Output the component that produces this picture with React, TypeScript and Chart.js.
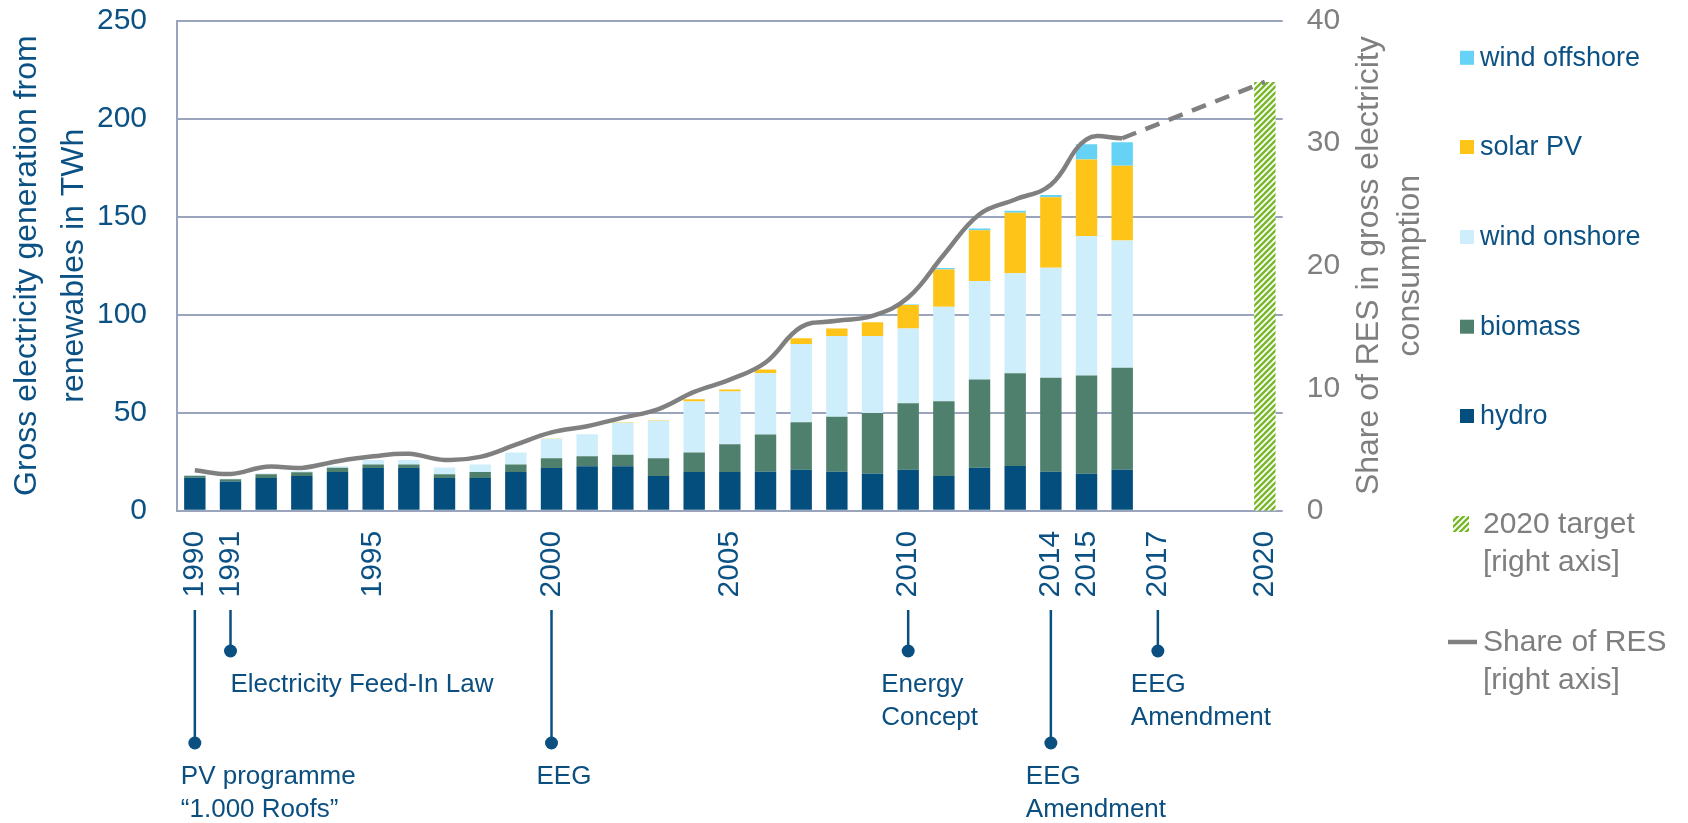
import React, { useEffect, useRef } from 'react';
import { Chart, registerables } from 'chart.js';

Chart.register(...registerables);

// ---------------- data ----------------
const years = [
  '1990', '1991', '1992', '1993', '1994', '1995', '1996', '1997', '1998', '1999',
  '2000', '2001', '2002', '2003', '2004', '2005', '2006', '2007', '2008', '2009',
  '2010', '2011', '2012', '2013', '2014', '2015', '2016', '2017', '2018', '2019', '2020',
];

// TWh, 1990 … 2016
const hydro = [16.8, 15.0, 16.7, 17.7, 19.8, 21.8, 21.8, 16.7, 16.7, 19.8, 21.8, 22.7, 22.7, 17.7, 19.8, 19.8, 19.9, 20.9, 19.9, 18.9, 20.9, 17.8, 22.0, 22.8, 19.9, 18.9, 20.9];
const biomass = [1.1, 1.1, 2.0, 2.0, 2.1, 1.8, 1.8, 2.0, 3.1, 3.8, 5.0, 5.1, 5.9, 9.1, 9.9, 14.1, 19.0, 24.2, 28.1, 31.0, 34.0, 38.1, 44.9, 47.4, 48.0, 50.1, 52.0];
const windOnshore = [0.1, 0.2, 0.3, 0.5, 0.8, 2.3, 2.3, 3.4, 3.8, 6.1, 10.0, 11.2, 16.3, 19.1, 26.0, 26.9, 31.3, 40.0, 41.2, 39.3, 38.1, 48.2, 50.3, 50.9, 56.1, 71.1, 65.0];
const solarPV = [0, 0, 0, 0, 0, 0, 0, 0, 0, 0, 0.1, 0.1, 0.2, 0.3, 1.2, 1.1, 1.8, 2.9, 3.8, 6.9, 12.0, 18.9, 25.9, 30.9, 35.9, 39.0, 38.1];
const windOffshore = [0, 0, 0, 0, 0, 0, 0, 0, 0, 0, 0, 0, 0, 0, 0, 0, 0, 0, 0, 0, 0.2, 0.8, 0.9, 1.0, 1.2, 7.8, 11.9];

// share of RES in gross electricity consumption, %, 1990 … 2016
const shareOfRES = [3.3, 3.0, 3.6, 3.5, 4.05, 4.45, 4.65, 4.15, 4.4, 5.4, 6.4, 6.9, 7.6, 8.3, 9.7, 10.7, 12.1, 15.0, 15.5, 15.9, 17.4, 20.9, 24.2, 25.4, 26.6, 30.3, 30.4];
const targetYear = '2020';
const targetShare = 35;

const leftTicks = [0, 50, 100, 150, 200, 250];
const rightTicks = [0, 10, 20, 30, 40];
const shownYearLabels = ['1990', '1991', '1995', '2000', '2005', '2010', '2014', '2015', '2017', '2020'];

const leftTitle = ['Gross electricity generation from', 'renewables in TWh'];
const rightTitle = ['Share of RES in gross electricity', 'consumption'];

const milestoneYears = ['1990', '1991', '2000', '2010', '2014', '2017'];
const milestoneTexts = [
  ['PV programme', '\u201C1.000 Roofs\u201D'],
  ['Electricity Feed-In Law'],
  ['EEG'],
  ['Energy', 'Concept'],
  ['EEG', 'Amendment'],
  ['EEG', 'Amendment'],
];
const milestoneRow = [2, 1, 2, 1, 2, 1];

// ---------------- styles / layout ----------------
const FONT = "'Liberation Sans', Arial, Helvetica, sans-serif";
const BLUE_TEXT = '#0B5184';
const GREY = '#7F7F7F';
const GRID = '#9AA5BD';
const TIMELINE = '#0B4F80';
const COLORS = {
  hydro: '#034E7D',
  biomass: '#4F806D',
  windOnshore: '#CDEEFA',
  solarPV: '#FEC518',
  windOffshore: '#66D3F6',
  hatch: '#78B829',
};
const W = 1688;
const H = 823;
const AREA = { left: 177, right: 1282.7, top: 20.6, bottom: 510.8 };
const LAYOUT = {
  leftTitleX: 27.5,
  leftTitleGap: 47,
  rightTitleX: 1369,
  rightTitleGap: 41,
  legendSquareX: 1460,
  legendTextX: 1480,
  legendY: [57.8, 147, 237, 326.7, 416],
  greyMarkerX: 1453,
  greyTextX: 1483,
  targetY: 524,
  lineY: 642,
  legendLineGap: 37.5,
  stemTop: 610,
  dotY: { 1: 651, 2: 743 },
  milestoneDx: [-14, 0, -15, -27, -25, -27],
  milestoneTextGap: 32.5,
  milestoneTextStart: 34,
};

function padToYears(arr: (number | null)[]) {
  return years.map((_, i) => (i < arr.length ? arr[i] : null));
}

function makeHatch(): CanvasPattern | string {
  const c = document.createElement('canvas');
  c.width = 6;
  c.height = 6;
  const g = c.getContext('2d');
  if (!g) return COLORS.hatch;
  g.fillStyle = '#ffffff';
  g.fillRect(0, 0, 6, 6);
  g.strokeStyle = COLORS.hatch;
  g.lineWidth = 2.4;
  g.beginPath();
  g.moveTo(-1, 7); g.lineTo(7, -1);
  g.moveTo(-4, 4); g.lineTo(4, -4);
  g.moveTo(2, 10); g.lineTo(10, 2);
  g.stroke();
  return g.createPattern(c, 'repeat') || COLORS.hatch;
}

const overlayPlugin = {
  id: 'overlay',
  afterDraw(chart: any) {
    const { ctx, chartArea, scales } = chart;
    const midY = (chartArea.top + chartArea.bottom) / 2;
    ctx.save();

    // axis titles (both read bottom-to-top)
    ctx.font = `32px ${FONT}`;
    ctx.textAlign = 'center';
    ctx.textBaseline = 'middle';
    const drawRot = (lines: string[], x0: number, gap: number, color: string) => {
      ctx.fillStyle = color;
      lines.forEach((t, i) => {
        ctx.save();
        ctx.translate(x0 + i * gap, midY);
        ctx.rotate(-Math.PI / 2);
        ctx.fillText(t, 0, 0);
        ctx.restore();
      });
    };
    drawRot(leftTitle, LAYOUT.leftTitleX, LAYOUT.leftTitleGap, BLUE_TEXT);
    drawRot(rightTitle, LAYOUT.rightTitleX, LAYOUT.rightTitleGap, GREY);

    // legend
    const ds = chart.data.datasets;
    const barEntries = ds.filter((d: any) => d.legendGroup === 'bar').slice().reverse();
    ctx.font = `27px ${FONT}`;
    ctx.textAlign = 'left';
    barEntries.forEach((d: any, i: number) => {
      const y = LAYOUT.legendY[i];
      ctx.fillStyle = d.backgroundColor;
      ctx.fillRect(LAYOUT.legendSquareX, y - 7, 14, 14);
      ctx.fillStyle = BLUE_TEXT;
      ctx.fillText(d.label, LAYOUT.legendTextX, y + 1);
    });
    ctx.font = `30px ${FONT}`;
    const target = ds.find((d: any) => d.legendGroup === 'target');
    if (target) {
      ctx.fillStyle = target.backgroundColor;
      ctx.fillRect(LAYOUT.greyMarkerX, LAYOUT.targetY - 8, 16, 16);
      ctx.fillStyle = GREY;
      target.legendLines.forEach((t: string, i: number) => {
        ctx.fillText(t, LAYOUT.greyTextX, LAYOUT.targetY + 1 + i * LAYOUT.legendLineGap);
      });
    }
    const line = ds.find((d: any) => d.legendGroup === 'line');
    if (line) {
      ctx.strokeStyle = line.borderColor;
      ctx.lineWidth = 4.5;
      ctx.beginPath();
      ctx.moveTo(LAYOUT.greyMarkerX - 5, LAYOUT.lineY);
      ctx.lineTo(LAYOUT.greyMarkerX + 24, LAYOUT.lineY);
      ctx.stroke();
      ctx.fillStyle = GREY;
      line.legendLines.forEach((t: string, i: number) => {
        ctx.fillText(t, LAYOUT.greyTextX, LAYOUT.lineY + 1 + i * LAYOUT.legendLineGap);
      });
    }

    // milestones timeline
    const xs = scales.x;
    ctx.strokeStyle = TIMELINE;
    ctx.fillStyle = TIMELINE;
    ctx.font = `26px ${FONT}`;
    milestoneYears.forEach((yr, i) => {
      const x = xs.getPixelForValue(years.indexOf(yr));
      const dotY = LAYOUT.dotY[milestoneRow[i] as 1 | 2];
      ctx.lineWidth = 2.5;
      ctx.beginPath();
      ctx.moveTo(x, LAYOUT.stemTop);
      ctx.lineTo(x, dotY);
      ctx.stroke();
      ctx.beginPath();
      ctx.arc(x, dotY, 6.5, 0, Math.PI * 2);
      ctx.fill();
      milestoneTexts[i].forEach((t, k) => {
        ctx.fillText(t, x + LAYOUT.milestoneDx[i], dotY + LAYOUT.milestoneTextStart + k * LAYOUT.milestoneTextGap);
      });
    });

    ctx.restore();
  },
};

const zeroPad = (s: any) => {
  s.paddingTop = 0;
  s.paddingBottom = 0;
  s.paddingLeft = 0;
  s.paddingRight = 0;
};

export default function App() {
  const ref = useRef<HTMLCanvasElement | null>(null);

  useEffect(() => {
    const canvas = ref.current;
    if (!canvas) return;
    const hatch = makeHatch();
    const lastIdx = shareOfRES.length - 1;
    const shareSolid = padToYears(shareOfRES);
    const shareDashed = years.map((y, i) =>
      i === lastIdx ? shareOfRES[lastIdx] : y === targetYear ? targetShare : null
    );
    const targetBar = years.map((y) => (y === targetYear ? targetShare : null));

    const barDs = (label: string, data: number[], color: string) => ({
      type: 'bar' as const,
      label,
      data: padToYears(data),
      backgroundColor: color,
      borderWidth: 0,
      yAxisID: 'y',
      order: 2,
      legendGroup: 'bar',
      barPercentage: 0.6,
      categoryPercentage: 1,
    });

    const chart = new Chart(canvas, {
      data: {
        labels: years,
        datasets: [
          {
            type: 'line',
            label: 'Share of RES [right axis]',
            legendLines: ['Share of RES', '[right axis]'],
            legendGroup: 'line',
            data: shareSolid,
            yAxisID: 'y2',
            borderColor: '#808080',
            borderWidth: 4.5,
            pointRadius: 0,
            tension: 0.4,
            order: 0,
          } as any,
          {
            type: 'line',
            label: 'Share of RES (path to 2020)',
            data: shareDashed,
            yAxisID: 'y2',
            borderColor: '#808080',
            borderWidth: 4.5,
            borderDash: [15, 10],
            pointRadius: 0,
            spanGaps: true,
            tension: 0,
            order: 0,
          } as any,
          barDs('hydro', hydro, COLORS.hydro),
          barDs('biomass', biomass, COLORS.biomass),
          barDs('wind onshore', windOnshore, COLORS.windOnshore),
          barDs('solar PV', solarPV, COLORS.solarPV),
          barDs('wind offshore', windOffshore, COLORS.windOffshore),
          {
            type: 'bar',
            label: '2020 target [right axis]',
            legendLines: ['2020 target', '[right axis]'],
            legendGroup: 'target',
            data: targetBar,
            yAxisID: 'y2',
            backgroundColor: hatch,
            borderWidth: 0,
            order: 2,
            barPercentage: 0.6,
            categoryPercentage: 1,
          } as any,
        ],
      },
      options: {
        animation: false,
        responsive: false,
        devicePixelRatio: 1,
        layout: { padding: { top: AREA.top, left: 0, right: 0, bottom: 0 }, autoPadding: false },
        plugins: {
          legend: { display: false },
          tooltip: { enabled: false },
          title: { display: false },
        },
        scales: {
          x: {
            type: 'category',
            stacked: true,
            offset: true,
            grid: { display: false, drawTicks: false },
            border: { display: false },
            ticks: {
              autoSkip: false,
              minRotation: 90,
              maxRotation: 90,
              padding: 20,
              color: BLUE_TEXT,
              font: { family: FONT, size: 30 },
              callback: (_v: any, i: number) => (shownYearLabels.includes(years[i]) ? years[i] : ''),
            },
            afterFit: (s: any) => { s.height = H - AREA.bottom; zeroPad(s); },
          },
          y: {
            type: 'linear',
            position: 'left',
            stacked: true,
            min: 0,
            max: leftTicks[leftTicks.length - 1],
            afterBuildTicks: (s: any) => { s.ticks = leftTicks.map((v) => ({ value: v })); },
            grid: { color: GRID, lineWidth: 2, drawTicks: false },
            border: { display: true, color: GRID, width: 2 },
            ticks: { padding: 30, color: BLUE_TEXT, font: { family: FONT, size: 30 } },
            afterFit: (s: any) => { s.width = AREA.left; zeroPad(s); },
          },
          y2: {
            type: 'linear',
            position: 'right',
            stacked: false,
            min: 0,
            max: rightTicks[rightTicks.length - 1],
            afterBuildTicks: (s: any) => { s.ticks = rightTicks.map((v) => ({ value: v })); },
            grid: { display: false, drawTicks: false },
            border: { display: false },
            ticks: { padding: 24, color: GREY, font: { family: FONT, size: 30 } },
            afterFit: (s: any) => { s.width = W - AREA.right; zeroPad(s); },
          },
        },
      } as any,
      plugins: [overlayPlugin],
    });
    return () => chart.destroy();
  }, []);

  return (
    <div style={{ position: 'absolute', left: 0, top: 0, width: W, height: H, background: '#ffffff' }}>
      <canvas ref={ref} width={W} height={H} style={{ display: 'block' }} />
    </div>
  );
}
